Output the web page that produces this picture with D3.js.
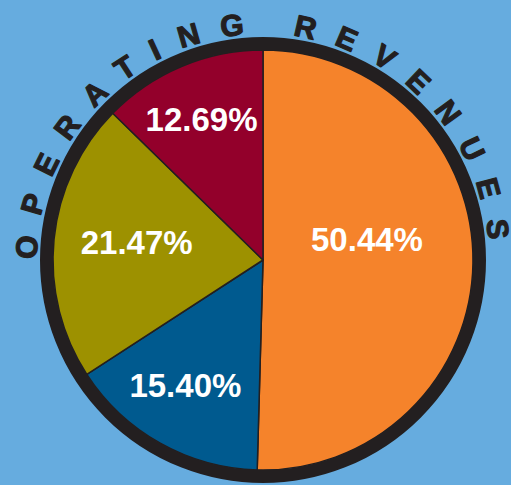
<!DOCTYPE html>
<html>
<head>
<meta charset="utf-8">
<script src="https://cdn.jsdelivr.net/npm/d3@7"></script>
<style>
  html, body { margin: 0; padding: 0; background: #66acdf; }
  svg { display: block; }
</style>
</head>
<body>
<svg id="chart" width="511" height="485"></svg>
<script>
// ---- data ----
const categories = ["Orange segment", "Blue segment", "Olive segment", "Red segment"];
const values = [50.44, 15.40, 21.47, 12.69];
const labels = ["50.44%", "15.40%", "21.47%", "12.69%"];
const colors = ["#f5832b", "#005a8f", "#9d9100", "#93002b"];
const title = "OPERATING REVENUES";

// ---- layout ----
const W = 511, H = 485;
const cx = 263, cy = 260;
const R = 210;            // pie radius
const ringW = 13;         // dark border width
const textR = 226;        // baseline radius for title arc
const labelR = 130;
const labelNudge = [[-26, -22], [-14, 12], [3, -5], [-11, -21]];

const svg = d3.select("#chart");
svg.append("rect").attr("width", W).attr("height", H).attr("fill", "#66acdf");

const g = svg.append("g").attr("transform", `translate(${cx},${cy})`);

const pie = d3.pie().sort(null).value(d => d)(values);
const arc = d3.arc().innerRadius(0).outerRadius(R);
const labelArc = d3.arc().innerRadius(labelR).outerRadius(labelR);

g.selectAll("path.slice")
  .data(pie)
  .join("path")
  .attr("class", "slice")
  .attr("d", arc)
  .attr("fill", (d, i) => colors[i])
  .attr("stroke", "#231f20")
  .attr("stroke-width", 1.5)
  .attr("stroke-linejoin", "round");

// border ring
g.append("circle")
  .attr("r", R + ringW / 2)
  .attr("fill", "none")
  .attr("stroke", "#231f20")
  .attr("stroke-width", ringW);

// labels
g.selectAll("text.lbl")
  .data(pie)
  .join("text")
  .attr("class", "lbl")
  .attr("x", (d, i) => labelArc.centroid(d)[0] + labelNudge[i][0])
  .attr("y", (d, i) => labelArc.centroid(d)[1] + labelNudge[i][1])
  .attr("text-anchor", "middle")
  .attr("dominant-baseline", "central")
  .attr("fill", "#ffffff")
  .attr("font-family", "'Liberation Sans', Arial, Helvetica, sans-serif")
  .attr("font-weight", "bold")
  .attr("font-size", 33)
  .text((d, i) => labels[i]);

// curved title
const defs = svg.append("defs");
defs.append("path")
  .attr("id", "titlePath")
  .attr("d", `M ${cx},${cy + textR} A ${textR},${textR} 0 1 1 ${cx},${cy - textR} A ${textR},${textR} 0 1 1 ${cx},${cy + textR}`);

svg.append("text")
  .style("font-family", "'Liberation Sans', Arial, Helvetica, sans-serif")
  .style("font-weight", "bold")
  .style("font-size", "30px")
  .style("letter-spacing", "20px")
  .attr("fill", "#231f20")
  .attr("stroke", "#231f20")
  .attr("stroke-width", 1.2)
  .attr("stroke-linejoin", "round")
  .append("textPath")
  .attr("href", "#titlePath")
  .attr("startOffset", "50%")
  .attr("text-anchor", "middle")
  .text(title);
</script>
</body>
</html>
